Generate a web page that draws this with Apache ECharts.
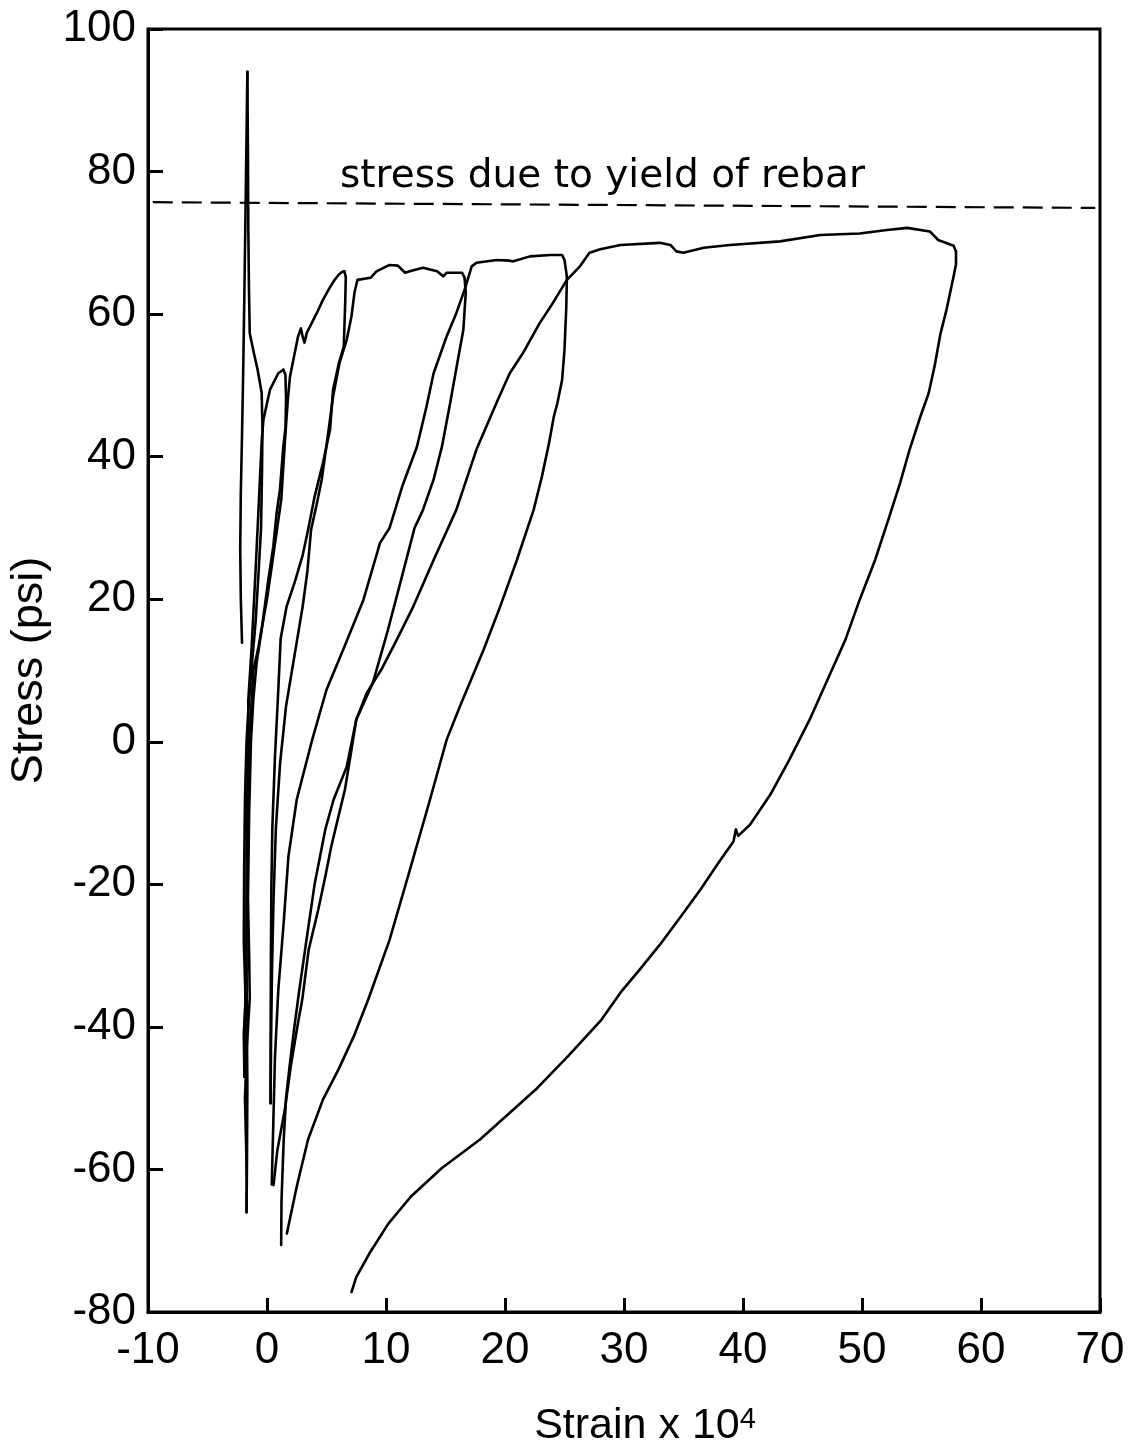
<!DOCTYPE html>
<html><head><meta charset="utf-8">
<script src="https://cdn.jsdelivr.net/npm/echarts@6/dist/echarts.min.js"></script>
<style>html,body{margin:0;padding:0;background:#fff}#c{width:1133px;height:1455px}</style>
</head><body><div id="c"></div>
<script>
// axis ticks
const xTicks = [-10, 0, 10, 20, 30, 40, 50, 60, 70];
const yTicks = [-80, -60, -40, -20, 0, 20, 40, 60, 80, 100];
const xTitle = 'Strain x 10';
const xTitleSup = '4';
const yTitle = 'Stress (psi)';

// yield reference line and its label
const yieldLine = [[-9.6, 75.7], [69.6, 74.9]];
const yieldLabel = 'stress due to yield of rebar';

// loading path, [strain x1e4, stress]
const spikeRise = [[-2.1,13.9],[-2.2,20],[-2.25,27],[-2.2,35],[-2.1,43],[-2.0,52],[-1.9,63],[-1.8,75],[-1.72,85],[-1.65,94]];
const spikeDrop = [[-1.65,94],[-1.6,82],[-1.57,72],[-1.52,64],[-1.45,57.3],[-1.1,54.5],[-0.8,52.3],[-0.45,49],[-0.38,44],[-0.42,38],[-0.5,30],[-0.7,24],[-0.95,17],[-1.26,11],[-1.55,5],[-1.72,0],[-1.85,-8],[-1.92,-18],[-1.95,-28],[-1.8,-36],[-1.95,-41],[-1.9,-47]];
const reload1 = [[-1.9,-47],[-1.85,-40],[-1.75,-30],[-1.68,-20],[-1.6,-10],[-1.57,-2],[-1.57,5.9],[-1.29,13.3],[-1.0,22.7],[-0.73,32],[-0.45,42],[-0.3,45.2],[0.25,49.4],[0.95,51.7],[1.37,52.2]];
const drop2 = [[1.37,52.2],[1.55,51.5],[1.6,48],[1.55,44],[1.37,41.4],[1.09,35.4],[0.81,32.1],[0.53,27.4],[0.11,22.7],[-0.45,15.7],[-0.87,11.1],[-1.15,5.9],[-1.35,0],[-1.5,-10],[-1.6,-22],[-1.5,-30],[-1.45,-36],[-1.7,-43],[-1.85,-50],[-1.75,-57],[-1.7,-62],[-1.72,-66]];
const reload2 = [[-1.72,-66],[-1.68,-58],[-1.65,-48],[-1.7,-38],[-1.72,-28],[-1.72,-18],[-1.7,-8],[-1.45,1],[-1.15,10],[-0.75,13],[0,20],[0.4,24.6],[0.8,29.3],[1.2,34],[1.5,42],[1.75,48],[1.93,51.2],[2.3,54.3],[2.6,56.8],[2.85,58.0],[3.0,56.8],[3.15,56.0],[3.35,57.4],[3.6,58.2],[4.2,60.2],[4.7,62],[5.2,63.5],[5.6,64.6],[6.0,65.5],[6.3,65.9],[6.5,66.0]];
const unload2 = [[6.5,66],[6.62,65.2],[6.58,62],[6.45,55.4],[6.05,53.2],[5.55,49.4],[5.3,43.8],[4.7,39.1],[4.0,34.4],[3.45,29.7],[3.0,26.2],[2.35,22.5],[1.65,19],[1.15,14.5],[0.95,7.3],[0.67,-2.1],[0.45,-12],[0.37,-20],[0.33,-30],[0.31,-39.5],[0.3,-50.7]];
const reload3 = [[0.3,-50.7],[0.34,-42],[0.42,-32],[0.55,-22],[0.75,-12],[1.1,-3],[1.6,5],[2.3,12],[3.0,19],[3.4,24],[3.7,29.7],[4.2,33.5],[4.6,36.8],[5.1,42.8],[5.55,48.4],[6.1,53.2],[6.7,56.4],[7.1,59.7],[7.35,63],[7.6,64.8],[8.7,65.1],[9.2,66.0],[10.3,66.9],[11.0,66.8],[11.6,65.8],[12.0,66.0],[13.1,66.5],[14.3,66.0],[14.8,65.3],[15.1,65.8],[16.4,65.8],[16.6,65.1]];
const unload3 = [[16.6,65.1],[16.7,63],[16.5,57.8],[16.0,53.2],[15.4,47.6],[14.7,41.4],[14.0,36.8],[13.1,32.5],[12.4,30],[11.2,22.3],[10.1,15.3],[8.9,8.3],[7.5,3.1],[7.1,-1.1],[6.55,-6.7],[6.0,-10.5],[5.4,-14.7],[4.9,-18.9],[4.3,-23.6],[3.5,-29.2],[2.96,-36.2],[2.6,-39.5],[2.0,-45.5],[1.5,-51.6],[0.87,-57.3],[0.55,-62.2]];
const reload4 = [[0.4,-62.1],[0.53,-53.5],[0.67,-44.2],[0.95,-34.8],[1.4,-25.4],[1.8,-16.1],[2.5,-8.1],[3.8,0.3],[5.0,7.3],[6.4,12.9],[8.1,19.9],[9.5,27.9],[10.3,30],[11.4,36],[12.6,41.4],[13.4,47],[14.0,51.7],[15.1,56.9],[15.9,60.1],[16.6,63.4],[17.2,66.7],[17.6,67.2],[19.3,67.6],[20.4,67.5],[20.7,67.4],[22.1,68.1],[23.8,68.3],[24.8,68.3],[25.0,67.6],[25.2,65.3]];
const unload4 = [[25.2,65.3],[25.15,61],[25.0,55],[24.8,50.8],[24.4,47.5],[24.1,45.6],[23.7,41.9],[23.1,37.2],[22.4,32.5],[21.0,25.5],[19.6,19],[18.2,12.9],[16.2,4.9],[15.1,0.3],[13.7,-8.1],[12.0,-18],[10.3,-27.8],[8.5,-36.2],[7.3,-41.3],[6.0,-46],[4.7,-50.2],[3.45,-55.8],[2.5,-62.4],[1.67,-69]];
const reload5 = [[1.19,-70.6],[1.22,-64.3],[1.4,-56],[1.6,-50],[1.9,-45.5],[2.3,-40],[2.7,-35],[3.3,-28],[4.0,-20],[4.9,-12.3],[5.6,-8.1],[6.7,-3.5],[7.5,3.1],[8.4,6.9],[9.6,10.1],[10.9,14.3],[12.3,19],[14.0,25.5],[15.9,32.5],[17.6,41],[19.4,48],[20.4,51.7],[21.5,54.5],[22.9,58.7],[24.0,61.5],[25.2,64.8],[26.3,66.7],[27.1,68.6],[28.0,69.1],[29.7,69.7],[33.0,70.0],[33.9,69.7],[34.4,68.8],[35.0,68.6],[36.7,69.3],[38.9,69.7],[43.1,70.2],[46.5,71.1],[49.8,71.3],[52.1,71.8],[53.8,72.1],[55.7,71.6],[56.4,70.4],[57.7,69.6],[57.9,68.8]];
const unload5 = [[57.9,68.8],[57.9,67],[57.7,65.3],[57.1,60.6],[56.6,57.3],[56.1,52.7],[55.6,48.9],[54.9,45.6],[54.0,41.0],[53.2,36.3],[52.2,31.1],[51.1,25.5],[49.8,19.9],[48.6,14.3],[47.1,8.7],[45.6,3.1],[43.9,-2.5],[42.3,-7.4],[40.6,-11.6],[39.6,-13.2],[39.4,-12.3],[39.2,-14.0],[38.1,-16.6],[36.4,-20.8],[34.7,-24.7],[33.0,-28.5],[31.3,-32.0],[29.7,-35.2],[28.1,-39.0],[25.3,-44.1],[22.7,-48.6],[20.5,-51.9],[17.9,-55.8],[14.7,-59.8],[12.1,-63.8],[10.2,-67.6],[8.6,-71.8],[7.5,-75.1],[7.1,-77.2]];

const curves = [spikeRise, spikeDrop, reload1, drop2, reload2, unload2, reload3, unload3, reload4, unload4, reload5, unload5];

const F = "'Liberation Sans', Arial, sans-serif";
const chart = echarts.init(document.getElementById('c'), null, {renderer: 'canvas'});
const series = curves.map(d => ({
  type: 'line', data: d, symbol: 'none', showSymbol: false, silent: true,
  lineStyle: {color: '#000', width: 2.6, join: 'round', cap: 'round'}, z: 3
}));
series.push({
  type: 'line', data: yieldLine, symbol: 'none', silent: true,
  lineStyle: {color: '#000', width: 2.2, type: [20, 9]}, z: 3
});
chart.setOption({
  animation: false,
  backgroundColor: '#fff',
  grid: {left: 148, right: 33, top: 29, bottom: 143, show: true, borderColor: '#000', borderWidth: 3,
         backgroundColor: 'transparent', containLabel: false, outerBoundsMode: 'none'},
  xAxis: {
    type: 'value', min: xTicks[0], max: xTicks[xTicks.length - 1], interval: 10,
    axisLine: {show: true, onZero: false, lineStyle: {color: '#000', width: 3}},
    axisTick: {show: true, inside: true, length: 14, lineStyle: {color: '#000', width: 3}},
    axisLabel: {color: '#000', fontSize: 44, fontFamily: F, margin: 17},
    splitLine: {show: false},
    name: '{a|' + xTitle + '}{b|' + xTitleSup + '}',
    nameLocation: 'middle', nameGap: 93,
    nameTextStyle: {color: '#000', padding: [0, 0, 0, 42],
      rich: {a: {fontSize: 43, fontFamily: F, color: '#000'},
             b: {fontSize: 29, fontFamily: F, color: '#000', verticalAlign: 'top'}}}
  },
  yAxis: {
    type: 'value', min: yTicks[0], max: yTicks[yTicks.length - 1], interval: 20,
    axisLine: {show: true, onZero: false, lineStyle: {color: '#000', width: 3}},
    axisTick: {show: true, inside: true, length: 15, lineStyle: {color: '#000', width: 3}},
    axisLabel: {color: '#000', fontSize: 44, fontFamily: F, margin: 12},
    splitLine: {show: false},
    name: yTitle, nameLocation: 'middle', nameGap: 90,
    nameTextStyle: {color: '#000', fontSize: 45, fontFamily: F}
  },
  graphic: [{
    type: 'text', left: 340, top: 157, silent: true,
    style: {text: yieldLabel, fontSize: 39, fontFamily: "'DejaVu Sans', sans-serif", fill: '#000'}
  }],
  series: series
});
</script>
</body></html>
